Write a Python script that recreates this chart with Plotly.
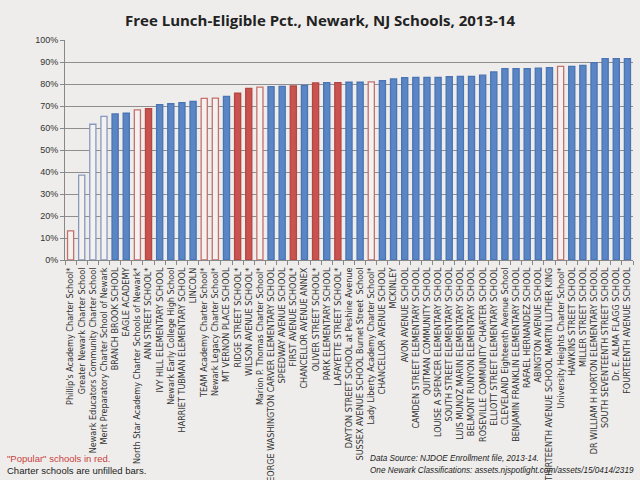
import plotly.graph_objects as go

schools = [
    "Phillip's Academy Charter School*",
    "Greater Newark Charter School",
    "Newark Educators Community Charter School",
    "Merit Preparatory Charter School of Newark",
    "BRANCH BROOK SCHOOL",
    "EAGLE ACADEMY",
    "North Star Academy Charter Schools of Newark*",
    "ANN STREET SCHOOL*",
    "IVY HILL ELEMENTARY SCHOOL",
    "Newark Early College High School",
    "HARRIET TUBMAN ELEMENTARY SCHOOL",
    "LINCOLN",
    "TEAM Academy Charter School*",
    "Newark Legacy Charter School*",
    "MT VERNON PLACE SCHOOL",
    "RIDGE STREET SCHOOL*",
    "WILSON AVENUE SCHOOL*",
    "Marion P. Thomas Charter School*",
    "GEORGE WASHINGTON CARVER ELEMENTARY SCHOOL",
    "SPEEDWAY AVENUE SCHOOL",
    "FIRST AVENUE SCHOOL*",
    "CHANCELLOR AVENUE ANNEX",
    "OLIVER STREET SCHOOL*",
    "PARK ELEMENTARY SCHOOL",
    "LAFAYETTE STREET SCHOOL*",
    "DAYTON STREET SCHOOL at Peshine Avenue",
    "SUSSEX AVENUE SCHOOL Burnet Street  School",
    "Lady Liberty Academy Charter School*",
    "CHANCELLOR AVENUE SCHOOL",
    "MCKINLEY",
    "AVON AVENUE SCHOOL",
    "CAMDEN STREET ELEMENTARY SCHOOL",
    "QUITMAN COMMUNITY SCHOOL",
    "LOUISE A SPENCER ELEMENTARY SCHOOL",
    "SOUTH STREET ELEMENTARY SCHOOL",
    "LUIS MUNOZ MARIN ELEMENTARY SCHOOL",
    "BELMONT RUNYON ELEMENTARY SCHOOL",
    "ROSEVILLE COMMUNITY CHARTER SCHOOL",
    "ELLIOTT STREET ELEMENTARY SCHOOL",
    "CLEVELAND Eighteenth Avenue School",
    "BENJAMIN FRANKLIN ELEMENTARY SCHOOL",
    "RAFAEL HERNANDEZ SCHOOL",
    "ABINGTON AVENUE SCHOOL",
    "THIRTEENTH AVENUE SCHOOL MARTIN LUTHER KING",
    "University Heights Charter School*",
    "HAWKINS STREET SCHOOL",
    "MILLER STREET SCHOOL",
    "DR WILLIAM H HORTON ELEMENTARY SCHOOL",
    "SOUTH SEVENTEENTH STREET SCHOOL",
    "Dr. E. ALMA FLAGG SCHOOL",
    "FOURTEENTH AVENUE SCHOOL",
]

pct = [
    13.2, 38.6, 61.7, 65.3, 66.4, 66.7, 68.2, 68.8, 70.6, 71.1,
    71.5, 72.1, 73.5, 73.6, 74.4, 75.8, 78.0, 78.6, 78.8, 78.9,
    79.1, 79.4, 80.5, 80.6, 80.6, 80.8, 80.8, 81.0, 81.5, 82.3,
    82.9, 83.0, 83.0, 83.0, 83.3, 83.5, 83.5, 84.0, 85.5, 87.0,
    87.0, 87.0, 87.2, 87.4, 88.0, 88.0, 88.5, 89.7, 91.5, 91.5, 91.5,
]

popular_idx = [1, 7, 8, 13, 14, 16, 17, 18, 21, 23, 25, 28, 45]
charter_idx = [1, 2, 3, 4, 7, 13, 14, 18, 28, 45]

y_ticks = [0, 10, 20, 30, 40, 50, 60, 70, 80, 90, 100]

fills, lines = [], []
for i in range(1, len(schools) + 1):
    red = i in popular_idx
    unfilled = i in charter_idx
    if unfilled:
        fills.append("#F3F2F0")
        lines.append("#C6706C" if red else "#8799BF")
    else:
        fills.append("#C9534E" if red else "#5A86C6")
        lines.append("#B54642" if red else "#4A74B3")

fig = go.Figure(go.Bar(
    x=schools, y=pct,
    marker=dict(color=fills, line=dict(color=lines, width=1.3)),
))

font_fam = "Liberation Sans Narrow, DejaVu Sans Condensed, Liberation Sans, Arial"

fig.update_layout(
    width=640, height=480,
    paper_bgcolor="#EEEDEB", plot_bgcolor="#EEEDEB",
    margin=dict(l=65, r=7, t=40, b=220, autoexpand=False),
    bargap=0.45,
    showlegend=False,
    font=dict(family="Liberation Sans, Arial", color="#333"),
    title=dict(text="<b>Free Lunch-Eligible Pct., Newark, NJ Schools, 2013-14</b>",
               x=0.5, xanchor="center", y=1 - 21 / 480, yanchor="middle",
               font=dict(size=15, color="#222", family="Open Sans, Liberation Sans")),
    xaxis=dict(type="category", tickangle=-90, tickfont=dict(size=9, family=font_fam, color="#333"),
               ticks="outside", ticklen=4, tickcolor="#888", tickson="boundaries",
               ticklabelstandoff=3,
               showline=True, linecolor="#888", linewidth=1, showgrid=False,
               automargin=False, range=[-0.5, len(schools) - 0.5]),
    yaxis=dict(range=[0, 100], tickvals=y_ticks, ticktext=[f"{v}%" for v in y_ticks],
               tickfont=dict(size=9, color="#333"), automargin=False,
               ticks="outside", ticklen=4, tickcolor="#888",
               showline=True, linecolor="#888", linewidth=1,
               showgrid=True, gridcolor="#8E8E8E", gridwidth=1, zeroline=False),
)

def px_x(p):
    return (p - 65) / 568

def px_y(p):
    return (260 - p) / 220

fig.add_annotation(text="\"Popular\" schools in red.", xref="paper", yref="paper",
                   x=px_x(5), y=px_y(458), xanchor="left", yanchor="middle", showarrow=False,
                   font=dict(size=9.5, color="#C9403B"))
fig.add_annotation(text="Charter schools are unfilled bars.", xref="paper", yref="paper",
                   x=px_x(5), y=px_y(470), xanchor="left", yanchor="middle", showarrow=False,
                   font=dict(size=9.5, color="#222"))
fig.add_annotation(text="<i>Data Source: NJDOE Enrollment file, 2013-14.</i>", xref="paper", yref="paper",
                   x=px_x(368), y=px_y(458), xanchor="left", yanchor="middle", showarrow=False,
                   font=dict(size=8.2, color="#222"))
fig.add_annotation(text="<i>One Newark Classifications: assets.njspotlight.com/assets/15/0414/2319</i>",
                   xref="paper", yref="paper",
                   x=px_x(368), y=px_y(470), xanchor="left", yanchor="middle", showarrow=False,
                   font=dict(size=8.2, color="#222"))

fig.write_html(
    "out.html",
    config={"displayModeBar": False},
    post_script="document.body.style.margin='0';document.body.style.background='#EEEDEB';",
)
